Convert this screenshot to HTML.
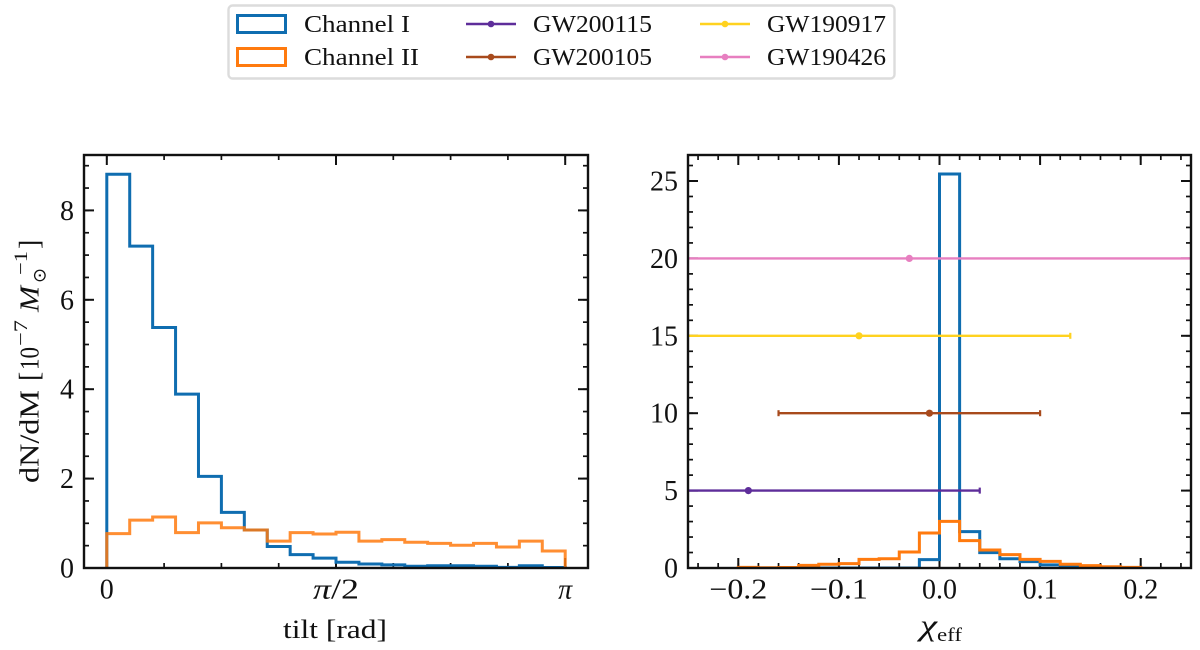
<!DOCTYPE html>
<html lang="en">
<head>
<meta charset="utf-8">
<title>Tilt and effective spin distributions</title>
<style>
html,body{margin:0;padding:0;background:#fff;width:1200px;height:650px;overflow:hidden}
svg{display:block}
text{font-family:"Liberation Serif","DejaVu Serif",serif;fill:#111}
</style>
</head>
<body>
<svg id="chart" xmlns="http://www.w3.org/2000/svg" width="1200" height="650" viewBox="0 0 1200 650">
  <defs>
    <clipPath id="clip-left"><rect x="84" y="155" width="504" height="413"/></clipPath>
    <clipPath id="clip-right"><rect x="688" y="155" width="503" height="413"/></clipPath>
  </defs>
  <g id="left-panel"></g>
  <g id="right-panel"></g>

  <text x="283" y="638" font-size="26" textLength="104" lengthAdjust="spacingAndGlyphs">tilt [rad]</text>
  <g>
    <text x="920" y="635" font-size="30" font-style="italic" textLength="17" lengthAdjust="spacingAndGlyphs">χ</text>
    <text x="937" y="641" font-size="19" textLength="25" lengthAdjust="spacingAndGlyphs">eff</text>
  </g>

  <g transform="translate(38.5,483) rotate(-90)">
    <text x="0" y="0" font-size="27" textLength="93" lengthAdjust="spacingAndGlyphs">dN/dM</text>
    <text x="102" y="0" font-size="28">[</text>
    <text x="113" y="0" font-size="27" textLength="23" lengthAdjust="spacingAndGlyphs">10</text>
    <text x="137" y="-11.5" font-size="19" textLength="26" lengthAdjust="spacingAndGlyphs">−7</text>
    <text x="171" y="0" font-size="27" font-style="italic" textLength="26" lengthAdjust="spacingAndGlyphs">M</text>
    <text x="200" y="7" font-size="18" style="font-family:'DejaVu Sans',sans-serif">⊙</text>
    <text x="208" y="-11.5" font-size="19" textLength="24" lengthAdjust="spacingAndGlyphs">−1</text>
    <text x="234" y="0" font-size="28">]</text>
  </g>

  <g>
    <rect x="228.5" y="5.5" width="666" height="73" rx="4" fill="#fff" stroke="#dcdcdc" stroke-width="2.4"/>
    <rect x="237.5" y="15.5" width="48" height="17" fill="none" stroke="#0f6db0" stroke-width="3"/>
    <text x="304" y="32" font-size="24" textLength="106" lengthAdjust="spacingAndGlyphs">Channel I</text>
    <rect x="237.5" y="48.5" width="48" height="17" fill="none" stroke="#ff7a0e" stroke-width="3"/>
    <text x="304" y="65" font-size="24" textLength="115" lengthAdjust="spacingAndGlyphs">Channel II</text>

    <line x1="466" x2="516" y1="24" y2="24" stroke="#5e2d9a" stroke-width="2.6"/>
    <circle cx="491" cy="24" r="3.3" fill="#5e2d9a"/>
    <text x="533" y="32" font-size="24" textLength="119" lengthAdjust="spacingAndGlyphs">GW200115</text>

    <line x1="466" x2="516" y1="57" y2="57" stroke="#a84a1c" stroke-width="2.6"/>
    <circle cx="491" cy="57" r="3.3" fill="#a84a1c"/>
    <text x="533" y="65" font-size="24" textLength="119" lengthAdjust="spacingAndGlyphs">GW200105</text>

    <line x1="700" x2="750" y1="24" y2="24" stroke="#ffd21f" stroke-width="2.6"/>
    <circle cx="725" cy="24" r="3.3" fill="#ffd21f"/>
    <text x="767" y="32" font-size="24" textLength="119" lengthAdjust="spacingAndGlyphs">GW190917</text>

    <line x1="700" x2="750" y1="57" y2="57" stroke="#e77fc0" stroke-width="2.6"/>
    <circle cx="725" cy="57" r="3.3" fill="#e77fc0"/>
    <text x="767" y="65" font-size="24" textLength="119" lengthAdjust="spacingAndGlyphs">GW190426</text>
  </g>
</svg>
<script>
// ---- left panel data ----
const tiltBinCount = 20;
const tiltChannel1 = [8.81, 7.2, 5.38, 3.89, 2.05, 1.245, 0.85, 0.48, 0.3, 0.22, 0.13, 0.09, 0.07, 0.04, 0.05, 0.05, 0.04, 0.015, 0.05, 0.01];
const tiltChannel2 = [0.77, 1.07, 1.14, 0.79, 1.01, 0.9, 0.85, 0.6, 0.79, 0.76, 0.8, 0.6, 0.634, 0.575, 0.55, 0.51, 0.55, 0.47, 0.6, 0.38];
const tiltXTicks = [0, Math.PI / 2, Math.PI];
const tiltXTickLabels = ['0', 'π/2', 'π'];
const tiltYTicks = [0, 2, 4, 6, 8];
const tiltYTickLabels = ['0', '2', '4', '6', '8'];

// ---- right panel data ----
const chiBinStart = -0.2;
const chiBinWidth = 0.02;
const chiChannel1 = [0, 0, 0, 0, 0, 0, 0, 0, 0, 0.54, 25.45, 2.35, 0.99, 0.6, 0.41, 0.2, 0.1, 0.05, 0.02, 0.01];
const chiChannel2 = [0.04, 0.02, 0.03, 0.17, 0.24, 0.28, 0.56, 0.6, 1.03, 2.26, 3.01, 1.77, 1.16, 0.86, 0.56, 0.43, 0.24, 0.15, 0.08, 0.04];
const chiXTicks = [-0.2, -0.1, 0, 0.1, 0.2];
const chiXTickLabels = ['−0.2', '−0.1', '0.0', '0.1', '0.2'];
const chiYTicks = [0, 5, 10, 15, 20, 25];
const chiYTickLabels = ['0', '5', '10', '15', '20', '25'];

// ---- gravitational wave events ----
const eventNames = ['GW200115', 'GW200105', 'GW190917', 'GW190426'];
const eventY = [5, 10, 15, 20];
const eventChi = [-0.19, -0.01, -0.08, -0.03];
const eventLow = [-0.5, -0.16, -0.5, -0.5];
const eventHigh = [0.04, 0.1, 0.13, 0.5];
const eventColors = ['#5e2d9a', '#a84a1c', '#ffd21f', '#e77fc0'];

const NS = 'http://www.w3.org/2000/svg';
const BLUE = '#0f6db0';
const ORANGE = '#ff7a0e';
const axTop = 155, axBottom = 568;

function linear(d0, d1, r0, r1) {
  return function (v) { return r0 + (v - d0) * (r1 - r0) / (d1 - d0); };
}
function make(tag, attrs, parent) {
  const el = document.createElementNS(NS, tag);
  for (const k in attrs) el.setAttribute(k, attrs[k]);
  parent.appendChild(el);
  return el;
}
function stepPath(values, edgeAt, x, y) {
  let d = 'M' + x(edgeAt(0)) + ' ' + y(0);
  values.forEach(function (v, i) {
    d += 'L' + x(edgeAt(i)) + ' ' + y(v) + 'L' + x(edgeAt(i + 1)) + ' ' + y(v);
  });
  d += 'L' + x(edgeAt(values.length)) + ' ' + y(0);
  return d;
}
function drawTicks(parent, x, y, left, right, xMajor, xMinor, yMajor, yMinor) {
  function vtick(v, len, w) {
    [[axBottom, axBottom - len], [axTop, axTop + len]].forEach(function (p) {
      const t = make('line', { x1: x(v), x2: x(v), y1: p[0], y2: p[1], stroke: '#111', 'stroke-width': w }, parent);
      
      
    });
  }
  function htick(v, len, w) {
    [[left, left + len], [right, right - len]].forEach(function (p) {
      const t = make('line', { x1: p[0], x2: p[1], y1: y(v), y2: y(v), stroke: '#111', 'stroke-width': w }, parent);
      
      
    });
  }
  xMinor.forEach(function (v) { vtick(v, 5, 1.7); });
  xMajor.forEach(function (v) { vtick(v, 10, 2); });
  yMinor.forEach(function (v) { htick(v, 5, 1.7); });
  yMajor.forEach(function (v) { htick(v, 10, 2); });
}
function drawLabels(parent, x, y, left, xVals, xLabels, yVals, yLabels) {
  xVals.forEach(function (v, i) {
    const t = make('text', { x: x(v), y: 598.5, 'font-size': 28, 'text-anchor': 'middle' }, parent);
    
    
    const label = xLabels[i];
    if (label.charAt(0) === 'π') {
      const pi = make('tspan', { 'font-style': 'italic' }, t);
      pi.textContent = 'π';
      if (label.length > 1) {
        const rest = make('tspan', {}, t);
        rest.textContent = label.slice(1);
        t.setAttribute('textLength', 46);
        t.setAttribute('lengthAdjust', 'spacingAndGlyphs');
      }
    } else {
      t.textContent = label;
      if (label.charAt(0) === '−') {
        t.setAttribute('textLength', 58);
        t.setAttribute('lengthAdjust', 'spacingAndGlyphs');
      }
    }
  });
  yVals.forEach(function (v, i) {
    const t = make('text', { x: left - 10, y: y(v) + 9.5, 'font-size': 28, 'text-anchor': 'end' }, parent);
    
    
    t.textContent = yLabels[i];
  });
}
function drawFrame(parent, left, right) {
  const r = make('rect', { x: left, y: axTop, width: right - left, height: axBottom - axTop, fill: 'none', stroke: '#111', 'stroke-width': 2.4 }, parent);
  
  
}

// ---- left panel ----
(function () {
  const g = document.getElementById('left-panel');
  const left = 84, right = 588;
  const x = linear(0, Math.PI, 106.8, 565.2);
  const y = linear(0, 8, axBottom, 210.4);
  const edge = function (i) { return i * Math.PI / tiltBinCount; };
  const xMinor = [];
  for (let k = 0; k <= 8; k++) xMinor.push(k * Math.PI / 8);
  const yMinor = [];
  for (let k = 0; k <= 18; k++) yMinor.push(k * 0.5);
  drawTicks(g, x, y, left, right, tiltXTicks, xMinor, tiltYTicks, yMinor);
  const plot = make('g', { 'clip-path': 'url(#clip-left)' }, g);
  
  
  const a = make('path', { d: stepPath(tiltChannel1, edge, x, y), fill: 'none', stroke: BLUE, 'stroke-width': 3, 'stroke-linejoin': 'miter' }, plot);
  
  
  const b = make('path', { d: stepPath(tiltChannel2, edge, x, y), fill: 'none', stroke: ORANGE, 'stroke-width': 3, opacity: 0.85 }, plot);
  
  
  drawFrame(g, left, right);
  drawLabels(g, x, y, left, tiltXTicks, tiltXTickLabels, tiltYTicks, tiltYTickLabels);
})();

// ---- right panel ----
(function () {
  const g = document.getElementById('right-panel');
  const left = 688, right = 1191;
  const x = linear(-0.25, 0.25, left, right);
  const y = linear(0, 25, axBottom, 181);
  const edge = function (i) { return chiBinStart + i * chiBinWidth; };
  const xMinor = [];
  for (let k = -12; k <= 12; k++) xMinor.push(k * 0.02);
  const yMinor = [];
  for (let k = 0; k <= 26; k++) yMinor.push(k);
  drawTicks(g, x, y, left, right, chiXTicks, xMinor, chiYTicks, yMinor);
  const plot = make('g', { 'clip-path': 'url(#clip-right)' }, g);
  
  
  const a = make('path', { d: stepPath(chiChannel1, edge, x, y), fill: 'none', stroke: BLUE, 'stroke-width': 3 }, plot);
  
  
  const b = make('path', { d: stepPath(chiChannel2, edge, x, y), fill: 'none', stroke: ORANGE, 'stroke-width': 3 }, plot);
  
  
  eventNames.forEach(function (name, i) {
    const ev = make('g', {}, plot);
    
    
    const c = eventColors[i], py = y(eventY[i]);
    make('line', { x1: x(eventLow[i]), x2: x(eventHigh[i]), y1: py, y2: py, stroke: c, 'stroke-width': 2.4 }, ev);
    [eventLow[i], eventHigh[i]].forEach(function (v) {
      make('line', { x1: x(v), x2: x(v), y1: py - 3, y2: py + 3, stroke: c, 'stroke-width': 2.2 }, ev);
    });
    make('circle', { cx: x(eventChi[i]), cy: py, r: 3.6, fill: c }, ev);
  });
  drawFrame(g, left, right);
  drawLabels(g, x, y, left, chiXTicks, chiXTickLabels, chiYTicks, chiYTickLabels);
})();
</script>
</body>
</html>
